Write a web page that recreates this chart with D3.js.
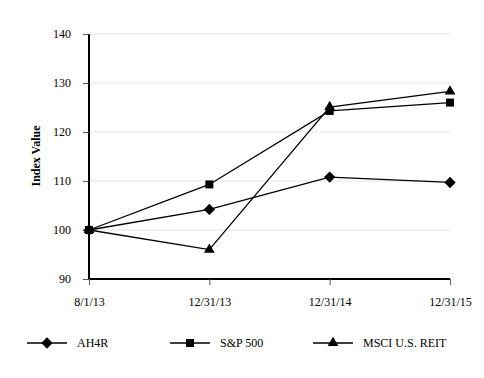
<!DOCTYPE html>
<html>
<head>
<meta charset="utf-8">
<script src="https://cdn.jsdelivr.net/npm/d3@7"></script>
<style>
  body { margin: 0; background: #fff; }
  svg text { font-family: "Liberation Serif", "Times New Roman", serif !important; fill: #000; }
</style>
</head>
<body>
<div id="chart"></div>
<script>
var w = 484,
    h = 378;

var dates = ["8/1/13", "12/31/13", "12/31/14", "12/31/15"];
var yTicks = [90, 100, 110, 120, 130, 140];
var ah4r = [100, 104.2, 110.8, 109.7];
var sp500 = [100, 109.3, 124.3, 126.0];
var msci = [100, 96.0, 125.1, 128.3];

var series = [
  {name: "AH4R", values: ah4r, symbol: "diamond", lx: 27},
  {name: "S&P 500", values: sp500, symbol: "square", lx: 170},
  {name: "MSCI U.S. REIT", values: msci, symbol: "triangle", lx: 313}
];

// marker shapes
var marker = function(type) {
  if (type == "diamond") return d3.symbol().type(d3.symbolSquare).size(64)();
  if (type == "square") return d3.symbol().type(d3.symbolSquare).size(64)();
  return d3.symbol().type(d3.symbolTriangle).size(50)();
};
var markerRot = function(type) { return type == "diamond" ? "rotate(45)" : ""; };

var svg = d3.select("#chart").append("svg")
    .attr("width", w)
    .attr("height", h);

var x = d3.scalePoint()
    .domain(dates)
    .range([89, 450]);

var y = d3.scaleLinear()
    .domain([90, 140])
    .range([279, 34]);

// gridlines
svg.append("g")
  .selectAll("line")
  .data(yTicks.slice(1))
  .enter().append("line")
    .attr("x1", 89)
    .attr("x2", 450)
    .attr("y1", function(d) { return y(d); })
    .attr("y2", function(d) { return y(d); })
    .attr("stroke", "#e4e4e4")
    .attr("stroke-width", 1);

var yAxis = svg.append("g")
    .attr("transform", "translate(89,0)")
    .call(d3.axisLeft(y).tickValues(yTicks).tickSize(6).tickPadding(12));

var xAxis = svg.append("g")
    .attr("transform", "translate(0,279)")
    .call(d3.axisBottom(x).tickSize(6).tickPadding(12));

[yAxis, xAxis].forEach(function(a) {
  a.attr("font-family", "'Liberation Serif', 'Times New Roman', serif")
   .attr("font-size", 12);
  a.select(".domain").attr("stroke", "#000").attr("stroke-width", 2);
  a.selectAll(".tick line").attr("stroke", "#555");
});
xAxis.select(".domain").attr("d", "M89,0H450");
yAxis.select(".domain").attr("d", "M0,34V279");

svg.append("text")
    .attr("transform", "translate(40,156)rotate(-90)")
    .attr("text-anchor", "middle")
    .attr("font-size", 12)
    .attr("font-weight", "bold")
    .text("Index Value");

var line = d3.line()
    .x(function(d, i) { return x(dates[i]); })
    .y(function(d) { return y(d); });

var g = svg.selectAll("g.series")
    .data(series)
  .enter().append("g")
    .attr("class", "series");

g.append("path")
    .attr("d", function(d) { return line(d.values); })
    .attr("fill", "none")
    .attr("stroke", "#000")
    .attr("stroke-width", 1.3);

g.selectAll("path.pt")
    .data(function(d) { return d.values.map(function(v, i) { return {v: v, i: i, s: d}; }); })
  .enter().append("path")
    .attr("class", "pt")
    .attr("transform", function(d) {
      return "translate(" + x(dates[d.i]) + "," + y(d.v) + ")" + markerRot(d.s.symbol);
    })
    .attr("d", function(d) { return marker(d.s.symbol); })
    .attr("fill", "#000");

// legend
var lg = svg.selectAll("g.legend")
    .data(series)
  .enter().append("g")
    .attr("class", "legend")
    .attr("transform", function(d) { return "translate(" + d.lx + ",343)"; });

lg.append("line")
    .attr("x1", 0).attr("x2", 40)
    .attr("stroke", "#000").attr("stroke-width", 1.3);

lg.append("path")
    .attr("transform", function(d) { return "translate(20,0)" + markerRot(d.symbol); })
    .attr("d", function(d) { return marker(d.symbol); })
    .attr("fill", "#000");

lg.append("text")
    .attr("x", 50)
    .attr("y", 4)
    .attr("font-size", 12)
    .text(function(d) { return d.name; });
</script>
</body>
</html>
